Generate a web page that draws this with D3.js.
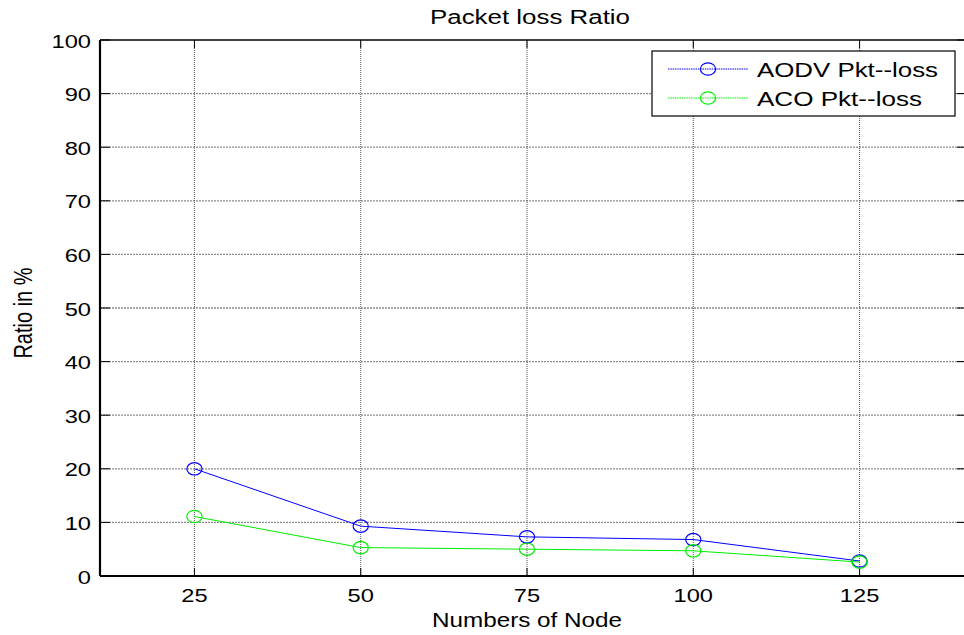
<!DOCTYPE html>
<html>
<head>
<meta charset="utf-8">
<script src="https://cdn.jsdelivr.net/npm/d3@7/dist/d3.min.js"></script>
<style>
  html, body { margin: 0; padding: 0; background: #fff; }
  svg { display: block; font-family: "Liberation Sans", Arial, sans-serif; }
</style>
</head>
<body>
<svg id="chart" width="964" height="635"></svg>
<script>
const nodes = [25, 50, 75, 100, 125];
const aodvLoss = [20, 9.3, 7.3, 6.8, 2.8];
const acoLoss = [11.1, 5.3, 5.0, 4.7, 2.6];
const yTicks = [0, 10, 20, 30, 40, 50, 60, 70, 80, 90, 100];
const xTicks = [25, 50, 75, 100, 125];
const seriesNames = ["AODV Pkt--loss", "ACO Pkt--loss"];
const seriesColors = ["#0000ff", "#00ee00"];

(function () {
const SX = 1.28; // horizontal stretch of the source image
const svg = d3.select("#chart");
const pL = 100, pR = 965, pT = 40, pB = 576;

const x = d3.scaleLinear().domain([10.8, 140.85]).range([pL, pR]);
const y = d3.scaleLinear().domain([0, 100]).range([pB, pT]);

// grid
svg.append("g").selectAll("line").data(yTicks.slice(1, -1)).join("line")
  .attr("x1", pL).attr("x2", pR)
  .attr("y1", d => y(d)).attr("y2", d => y(d))
  .attr("stroke", "#8a8a8a").attr("stroke-width", 1.3).attr("stroke-dasharray", "2,1");
svg.append("g").selectAll("line").data(xTicks).join("line")
  .attr("x1", d => x(d)).attr("x2", d => x(d))
  .attr("y1", pT).attr("y2", pB)
  .attr("stroke", "#555").attr("stroke-width", 1).attr("stroke-dasharray", "1,1");

// ticks (inside, all four sides)
const tk = svg.append("g").attr("stroke", "#000").attr("stroke-width", 1);
yTicks.forEach(d => {
  tk.append("line").attr("x1", pL).attr("x2", pL + 10).attr("y1", y(d)).attr("y2", y(d));
  tk.append("line").attr("x1", pR - 8).attr("x2", pR).attr("y1", y(d)).attr("y2", y(d));
});
xTicks.forEach(d => {
  tk.append("line").attr("x1", x(d)).attr("x2", x(d)).attr("y1", pB).attr("y2", pB - 8);
  tk.append("line").attr("x1", x(d)).attr("x2", x(d)).attr("y1", pT).attr("y2", pT + 8);
});

// axes box
svg.append("line").attr("x1", pL).attr("x2", pR).attr("y1", pT).attr("y2", pT)
  .attr("stroke", "#000").attr("stroke-width", 1.5);
svg.append("line").attr("x1", pL).attr("x2", pR).attr("y1", pB).attr("y2", pB)
  .attr("stroke", "#000").attr("stroke-width", 2.2);
svg.append("line").attr("x1", pL).attr("x2", pL).attr("y1", pT).attr("y2", pB)
  .attr("stroke", "#000").attr("stroke-width", 2.2);

// tick labels
svg.append("g").selectAll("text").data(yTicks).join("text")
  .attr("transform", d => `translate(91,${y(d) + 7.5}) scale(${SX},1)`)
  .attr("text-anchor", "end").attr("font-size", 18.5).text(d => d);
svg.append("g").selectAll("text").data(xTicks).join("text")
  .attr("transform", d => `translate(${x(d)},602) scale(${SX},1)`)
  .attr("text-anchor", "middle").attr("font-size", 18.5).text(d => d);

// series
const series = [aodvLoss, acoLoss];
series.forEach((vals, i) => {
  const pts = nodes.map((n, j) => [n, vals[j]]);
  svg.append("path").datum(pts)
    .attr("d", d3.line().x(d => x(d[0])).y(d => y(d[1])))
    .attr("fill", "none").attr("stroke", seriesColors[i]).attr("stroke-width", 1);
  svg.append("g").selectAll("ellipse").data(pts).join("ellipse")
    .attr("cx", d => x(d[0])).attr("cy", d => y(d[1]))
    .attr("rx", 7.6).attr("ry", 6.2)
    .attr("fill", "none").attr("stroke", seriesColors[i]).attr("stroke-width", 1.2);
});

// titles
svg.append("text").attr("x", 430).attr("y", 24).attr("font-size", 19.5)
  .attr("textLength", 200).attr("lengthAdjust", "spacingAndGlyphs")
  .text("Packet loss Ratio");
svg.append("text").attr("x", 432).attr("y", 627).attr("font-size", 20.5)
  .attr("textLength", 190).attr("lengthAdjust", "spacingAndGlyphs")
  .text("Numbers of Node");
svg.append("text").attr("transform", `translate(32,313) scale(1.3,1) rotate(-90)`)
  .attr("text-anchor", "middle").attr("font-size", 20).text("Ratio in %");

// legend
const lg = svg.append("g");
lg.append("rect").attr("x", 652).attr("y", 51).attr("width", 303).attr("height", 65)
  .attr("fill", "#fff").attr("stroke", "#000").attr("stroke-width", 1.2);
const legY = [69, 98];
seriesNames.forEach((name, i) => {
  lg.append("line").attr("x1", 668).attr("x2", 748).attr("y1", legY[i]).attr("y2", legY[i])
    .attr("stroke", seriesColors[i]).attr("stroke-width", 1).attr("stroke-dasharray", "1.5,0.8");
  lg.append("ellipse").attr("cx", 708).attr("cy", legY[i]).attr("rx", 7.6).attr("ry", 6.2)
    .attr("fill", "none").attr("stroke", seriesColors[i]).attr("stroke-width", 1.2);
  lg.append("text").attr("x", 757).attr("y", legY[i] + 8)
    .attr("font-size", 20).attr("textLength", i === 0 ? 181 : 165).attr("lengthAdjust", "spacingAndGlyphs")
    .text(name);
});
})();
</script>
</body>
</html>
